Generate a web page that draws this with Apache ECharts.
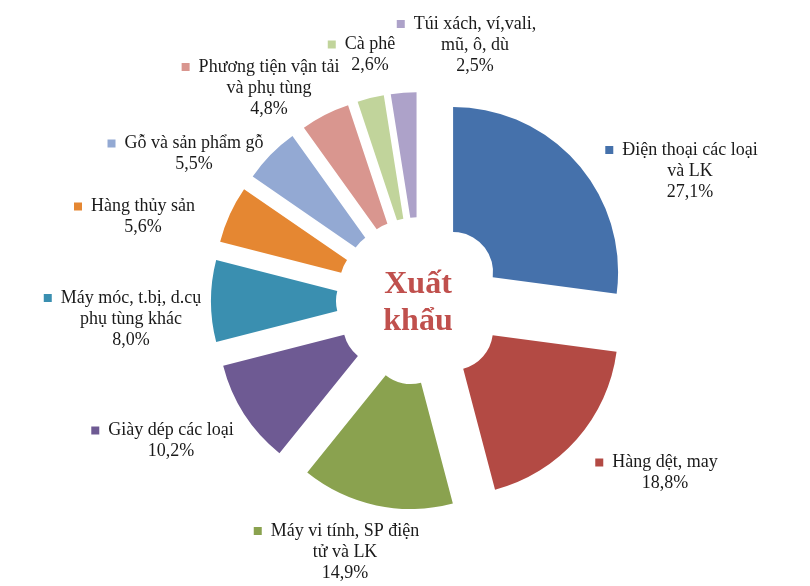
<!DOCTYPE html>
<html>
<head>
<meta charset="utf-8">
<title>Xuất khẩu</title>
<script src="https://cdn.jsdelivr.net/npm/echarts@6/dist/echarts.min.js"></script>
<style>
  html, body { margin: 0; padding: 0; background: #fff; }
  .export-cake { width: 810px; height: 586px; }
</style>
</head>
<body>
<div class="export-cake"></div>
<script>
// dữ liệu (%)
var names = [
  'Điện thoại các loại\nvà LK',
  'Hàng dệt, may',
  'Máy vi tính, SP điện\ntử và LK',
  'Giày dép các loại',
  'Máy móc, t.bị, d.cụ\nphụ tùng khác',
  'Hàng thủy sản',
  'Gỗ và sản phẩm gỗ',
  'Phương tiện vận tải\nvà phụ tùng',
  'Cà phê',
  'Túi xách, ví,vali,\nmũ, ô, dù'
];
var values = [27.1, 18.8, 14.9, 10.2, 8.0, 5.6, 5.5, 4.8, 2.6, 2.5];
var myColor = ['#4571AB', '#B34A44', '#8AA24F', '#6E5A93', '#3A8FB0',
               '#E58732', '#93A9D3', '#D9968F', '#C1D49B', '#ADA2C9'];
// vị trí nhãn (tâm khối chữ)
var labelAt = [[690, 171], [665, 473], [345, 552], [171, 441], [131, 319],
               [143, 217], [194, 154], [269, 88], [370, 55], [475, 45]];

let myChart = echarts.init(document.querySelector('.export-cake'));

// các miếng tách rời (selected)
let pieData = values.map(function (v, i) {
  return {
    value: v,
    name: names[i],
    selected: true,
    itemStyle: { color: myColor[i] }
  };
});

// cùng dữ liệu, trong suốt, chỉ để vẽ nhãn
let labelData = values.map(function (v, i) {
  return {
    value: v,
    name: names[i],
    label: {
      rich: { m: { backgroundColor: myColor[i], width: 8, height: 8 } }
    }
  };
});

let option = {
  animation: false,
  graphic: [
    {
      type: 'text',
      x: 418,
      y: 303,
      style: {
        text: 'Xuất\nkhẩu',
        font: 'bold 32px "Liberation Serif"',
        fill: '#C0504D',
        align: 'center',
        verticalAlign: 'middle',
        lineHeight: 37
      }
    }
  ],
  series: [
    {
      name: 'Xuất khẩu',
      type: 'pie',
      center: [420, 301],
      radius: [40, 165],
      startAngle: 90,
      selectedMode: 'multiple',
      selectedOffset: 44,
      emphasis: { disabled: true },
      label: { show: false },
      labelLine: { show: false },
      data: pieData
    },
    {
      name: 'nhãn',
      type: 'pie',
      silent: true,
      center: [420, 301],
      radius: [40, 165],
      startAngle: 90,
      avoidLabelOverlap: false,
      itemStyle: { color: 'rgba(0,0,0,0)' },
      emphasis: { disabled: true },
      label: {
        show: true,
        color: '#1a1a1a',
        fontFamily: 'Liberation Serif',
        fontSize: 18,
        lineHeight: 21,
        align: 'center',
        formatter: function (p) {
          let lines = p.name.split('\n');
          // ô màu ở đầu dòng 1, khoảng trống cùng cỡ ở cuối để chữ vẫn canh giữa
          lines[0] = '{m|}  ' + lines[0] + '  {s|}';
          lines.push(p.value.toFixed(1).replace('.', ',') + '%');
          return lines.join('\n');
        },
        rich: {
          s: { width: 8, height: 8 }
        }
      },
      labelLine: { show: false },
      labelLayout: function (params) {
        let p = labelAt[params.dataIndex];
        return { x: p[0], y: p[1], align: 'center', verticalAlign: 'middle' };
      },
      data: labelData
    }
  ]
};
// 把配置给实例对象
myChart.setOption(option);
</script>
</body>
</html>
